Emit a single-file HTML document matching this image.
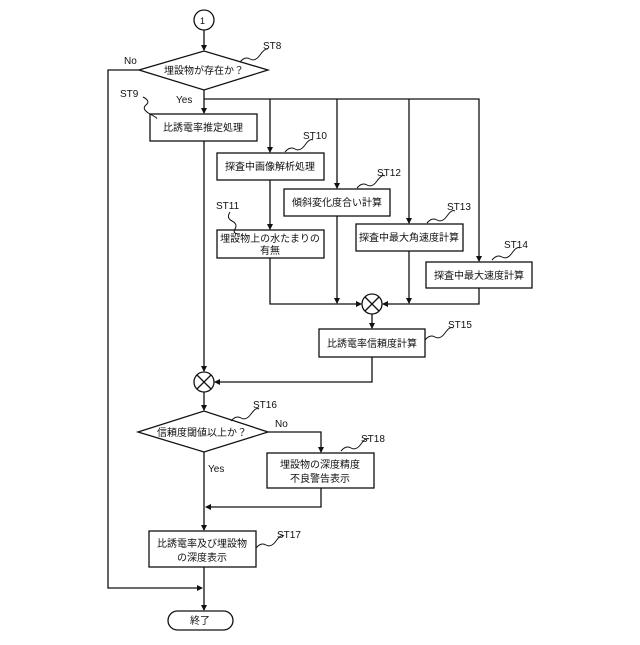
<!DOCTYPE html>
<html><head><meta charset="utf-8"><style>
html,body{margin:0;padding:0;background:#fff}
svg text{font-family:"Liberation Sans","Noto Sans CJK JP",sans-serif;fill:#111}
</style></head><body>
<svg width="640" height="640" viewBox="0 0 640 640" xmlns="http://www.w3.org/2000/svg">
<defs><marker id="a" markerWidth="6" markerHeight="6" refX="5" refY="3" orient="auto" markerUnits="userSpaceOnUse"><path d="M0,0 L6,3 L0,6 z" fill="#111"/></marker></defs>
<g stroke="#111" stroke-width="1.3" fill="none">
<circle cx="204" cy="20" r="10"/>
<line x1="204" y1="30" x2="204" y2="50" marker-end="url(#a)"/>
<polygon points="139,70 204,51 268,70 204,90" fill="#fff"/>
<polyline points="139,70 108,70 108,588 202,588" marker-end="url(#a)"/>
<line x1="204" y1="90" x2="204" y2="113" marker-end="url(#a)"/>
<polyline points="204,99 479,99 479,261" marker-end="url(#a)"/>
<line x1="270" y1="99" x2="270" y2="152" marker-end="url(#a)"/>
<line x1="337" y1="99" x2="337" y2="188" marker-end="url(#a)"/>
<line x1="409" y1="99" x2="409" y2="223" marker-end="url(#a)"/>
<rect x="150" y="114" width="107" height="27"/>
<rect x="217" y="153" width="107" height="27"/>
<rect x="284" y="189" width="106" height="27"/>
<rect x="217" y="230" width="107" height="28"/>
<rect x="356" y="224" width="107" height="27"/>
<rect x="426" y="262" width="106" height="26"/>
<line x1="270" y1="180" x2="270" y2="229" marker-end="url(#a)"/>
<polyline points="270,258 270,304 361,304" marker-end="url(#a)"/>
<line x1="337" y1="216" x2="337" y2="303" marker-end="url(#a)"/>
<line x1="409" y1="251" x2="409" y2="303" marker-end="url(#a)"/>
<polyline points="479,288 479,304 383,304" marker-end="url(#a)"/>
<circle cx="372" cy="304" r="10"/>
<path d="M365,297 L379,311 M379,297 L365,311"/>
<line x1="372" y1="314" x2="372" y2="328" marker-end="url(#a)"/>
<rect x="319" y="329" width="106" height="28"/>
<polyline points="372,357 372,382 215,382" marker-end="url(#a)"/>
<line x1="204" y1="141" x2="204" y2="371" marker-end="url(#a)"/>
<circle cx="204" cy="382" r="10"/>
<path d="M197,375 L211,389 M211,375 L197,389"/>
<line x1="204" y1="392" x2="204" y2="410" marker-end="url(#a)"/>
<polygon points="138,432 204,411 268,432 204,452" fill="#fff"/>
<polyline points="268,432 321,432 321,452" marker-end="url(#a)"/>
<rect x="267" y="453" width="107" height="35"/>
<polyline points="321,488 321,507 206,507" marker-end="url(#a)"/>
<line x1="204" y1="452" x2="204" y2="530" marker-end="url(#a)"/>
<rect x="149" y="531" width="107" height="36"/>
<line x1="204" y1="567" x2="204" y2="610" marker-end="url(#a)"/>
<rect x="168" y="611" width="65" height="19" rx="9.5"/>
<g stroke-width="1">
<path d="M240,62 q5,-6 10,-3 t10,-4 t8,-6"/>
<path d="M143,97 q8,4 3,8 t4,9 t6,4"/>
<path d="M285,152 q5,-6 10,-3 t10,-4 t8,-5"/>
<path d="M357,188 q5,-6 10,-3 t10,-4 t8,-5"/>
<path d="M230,212 q-4,6 2,9 t3,8 t5,5"/>
<path d="M427,223 q5,-6 10,-3 t10,-4 t8,-5"/>
<path d="M492,260 q5,-6 10,-3 t10,-4 t8,-5"/>
<path d="M425,340 q5,-6 10,-3 t10,-4 t8,-5"/>
<path d="M231,421 q5,-6 10,-3 t10,-4 t8,-5"/>
<path d="M341,451 q5,-6 10,-3 t10,-4 t8,-5"/>
<path d="M256,548 q5,-6 10,-3 t10,-4 t8,-5"/>
</g>
</g>
<g font-size="10">
<text x="200" y="24" font-size="9">1</text>
<text x="204" y="74" text-anchor="middle">埋設物が存在か？</text>
<text x="124" y="64">No</text>
<text x="263" y="49">ST8</text>
<text x="120" y="97">ST9</text>
<text x="176" y="103">Yes</text>
<text x="203" y="131" text-anchor="middle">比誘電率推定処理</text>
<text x="303" y="139">ST10</text>
<text x="270" y="170" text-anchor="middle">探査中画像解析処理</text>
<text x="377" y="176">ST12</text>
<text x="337" y="206" text-anchor="middle">傾斜変化度合い計算</text>
<text x="216" y="209">ST11</text>
<text x="270" y="242" text-anchor="middle">埋設物上の水たまりの</text>
<text x="270" y="254" text-anchor="middle">有無</text>
<text x="447" y="210">ST13</text>
<text x="409" y="241" text-anchor="middle">探査中最大角速度計算</text>
<text x="504" y="248">ST14</text>
<text x="479" y="279" text-anchor="middle">探査中最大速度計算</text>
<text x="448" y="328">ST15</text>
<text x="372" y="347" text-anchor="middle">比誘電率信頼度計算</text>
<text x="253" y="408">ST16</text>
<text x="202" y="436" text-anchor="middle">信頼度閾値以上か？</text>
<text x="275" y="427">No</text>
<text x="361" y="442">ST18</text>
<text x="320" y="468" text-anchor="middle">埋設物の深度精度</text>
<text x="320" y="482" text-anchor="middle">不良警告表示</text>
<text x="208" y="472">Yes</text>
<text x="277" y="538">ST17</text>
<text x="202" y="547" text-anchor="middle">比誘電率及び埋設物</text>
<text x="202" y="561" text-anchor="middle">の深度表示</text>
<text x="200" y="624" text-anchor="middle">終了</text>
</g>
</svg>
</body></html>
